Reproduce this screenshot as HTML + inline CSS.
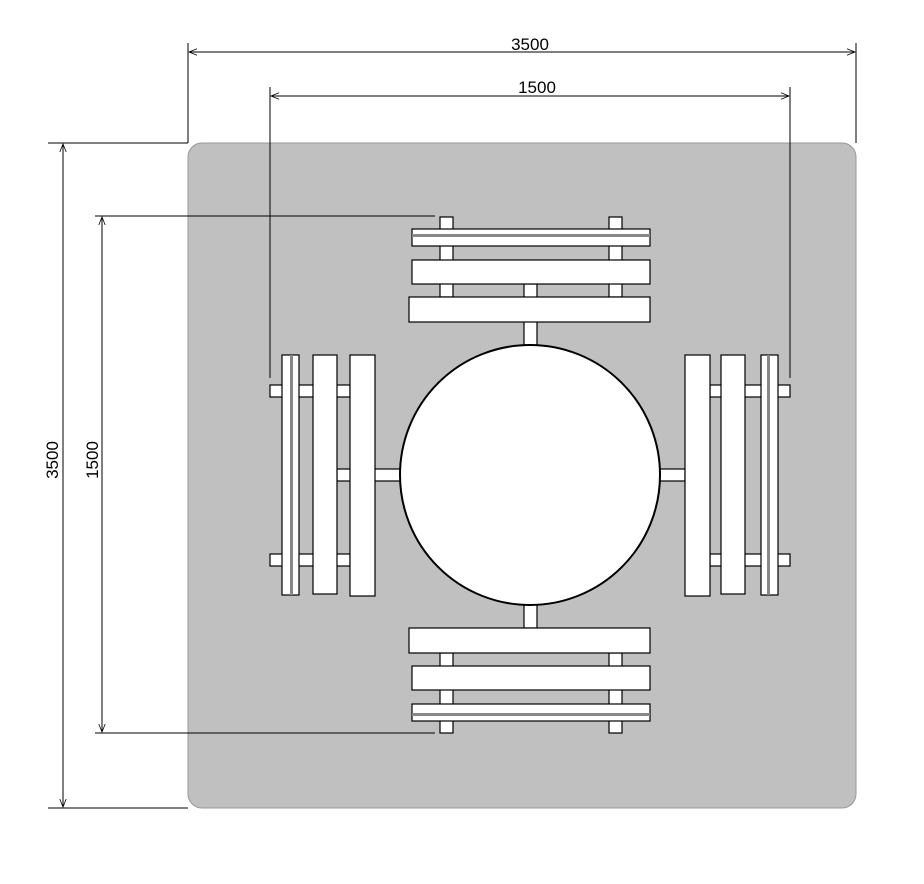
<!DOCTYPE html><html><head><style>body{margin:0;background:#fff}</style></head><body>
<svg width="924" height="879" xmlns="http://www.w3.org/2000/svg" font-family="Liberation Sans, sans-serif">
<defs><marker id="a" viewBox="0 0 10 10" refX="10" refY="5" markerWidth="10" markerHeight="8" orient="auto-start-reverse"><path d="M0,1 L10,5 L0,9" fill="none" stroke="#000" stroke-width="1"/></marker></defs>
<rect x="188" y="143" width="668" height="665" rx="14" fill="#c0c0c0" stroke="#999"/>
<g stroke="#000" stroke-width="1" fill="none">
<line x1="188" y1="43" x2="188" y2="143"/><line x1="856" y1="43" x2="856" y2="143"/>
<line x1="189" y1="52" x2="855" y2="52" marker-start="url(#a)" marker-end="url(#a)"/>
<line x1="270" y1="87" x2="270" y2="378"/><line x1="790" y1="87" x2="790" y2="378"/>
<line x1="271" y1="96" x2="789" y2="96" marker-start="url(#a)" marker-end="url(#a)"/>
<line x1="48" y1="143" x2="188" y2="143"/><line x1="48" y1="808" x2="188" y2="808"/>
<line x1="63" y1="144" x2="63" y2="807" marker-start="url(#a)" marker-end="url(#a)"/>
<line x1="95" y1="216" x2="435" y2="216"/><line x1="95" y1="733" x2="435" y2="733"/>
<line x1="102" y1="217" x2="102" y2="732" marker-start="url(#a)" marker-end="url(#a)"/>
</g>
<text x="530" y="50" font-size="17" text-anchor="middle">3500</text>
<text x="537" y="93" font-size="17" text-anchor="middle">1500</text>
<text transform="translate(58,460) rotate(-90)" font-size="17" text-anchor="middle">3500</text>
<text transform="translate(98,460) rotate(-90)" font-size="17" text-anchor="middle">1500</text>
<g fill="#fff" stroke="#000" stroke-width="1.2">
<!-- posts -->
<rect x="440" y="217" width="13" height="80"/><rect x="609" y="217" width="13" height="80"/><rect x="524" y="284" width="13" height="62"/>
<rect x="440" y="653" width="13" height="80"/><rect x="609" y="653" width="13" height="80"/><rect x="524" y="604" width="13" height="24"/>
<rect x="270" y="385" width="80" height="12"/><rect x="270" y="554" width="80" height="12"/><rect x="337" y="469" width="64" height="12"/>
<rect x="710" y="385" width="80" height="12"/><rect x="710" y="554" width="80" height="12"/><rect x="659" y="469" width="26" height="12"/>
<!-- top -->
<rect x="412" y="229" width="238" height="17"/><rect x="412" y="234" width="238" height="3" fill="#888" stroke="none"/>
<rect x="412" y="260" width="238" height="24"/><rect x="409" y="297" width="241" height="25"/>
<!-- bottom -->
<rect x="412" y="704" width="238" height="17"/><rect x="412" y="713" width="238" height="3" fill="#888" stroke="none"/>
<rect x="412" y="666" width="238" height="24"/><rect x="409" y="628" width="241" height="25"/>
<!-- left -->
<rect x="282" y="355" width="17" height="240"/><rect x="290" y="355" width="3" height="240" fill="#888" stroke="none"/>
<rect x="313" y="355" width="24" height="239"/><rect x="350" y="355" width="25" height="241"/>
<!-- right -->
<rect x="761" y="355" width="17" height="240"/><rect x="767" y="355" width="3" height="240" fill="#888" stroke="none"/>
<rect x="721" y="355" width="24" height="239"/><rect x="685" y="355" width="25" height="241"/>
<circle cx="530" cy="475" r="130" stroke-width="2"/>
</g>
</svg></body></html>
